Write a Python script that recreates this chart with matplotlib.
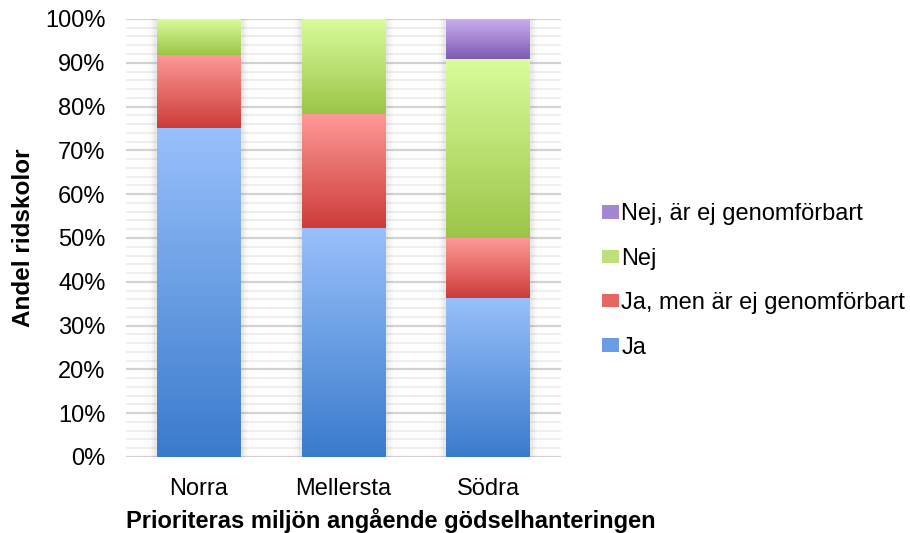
import numpy as np
import matplotlib
matplotlib.use('Agg')
from matplotlib import pyplot as plt
from matplotlib.colors import LinearSegmentedColormap
from matplotlib.patches import Patch

plt.rcParams['font.family'] = ['Liberation Sans', 'DejaVu Sans']

# shares of riding schools per region (percent)
regions = ['Norra', 'Mellersta', 'Södra']
ja = [75.0, 52.2, 36.4]
ja_men = [16.7, 26.1, 13.6]
nej = [8.3, 21.7, 40.9]
nej_ej = [0.0, 0.0, 9.1]

series = [
    ('Ja', ja, '#99c0fb', '#3a7bcc'),
    ('Ja, men är ej genomförbart', ja_men, '#ff9a98', '#cc3c39'),
    ('Nej', nej, '#dbfc9c', '#9bc548'),
    ('Nej, är ej genomförbart', nej_ej, '#c9aef0', '#7d5bb3'),
]

fs = 17

fig = plt.figure(figsize=(9.1, 5.33), dpi=100)
ax = fig.add_axes([0.139, 0.1426, 0.477, 0.8218])

x = np.arange(len(regions))
width = 0.58

# grid: light minor lines every 2%, darker major every 10%
for v in np.arange(0, 101, 2):
    if v % 10 == 0:
        ax.axhline(v, color='#d3d3d3', lw=1.6, zorder=0)
    else:
        ax.axhline(v, color='#ececec', lw=1.2, zorder=0)

# soft shadow around each column
for xi in x:
    for k, a in [(0.05, 0.04), (0.035, 0.05), (0.02, 0.07)]:
        ax.add_patch(plt.Rectangle((xi - width / 2 - k, -0.3), width + 2 * k, 100.3,
                                   color='#808080', alpha=a, lw=0, zorder=1))

grad = np.linspace(0, 1, 256).reshape(-1, 1)
bottom = np.zeros(len(regions))
for name, vals, top_c, bot_c in series:
    vals = np.array(vals)
    cmap = LinearSegmentedColormap.from_list(name, [bot_c, top_c])
    bars = ax.bar(x, vals, width, bottom=bottom, color='none', lw=0, zorder=2)
    for b in bars:
        if b.get_height() <= 0:
            continue
        x0, y0 = b.get_x(), b.get_y()
        im = ax.imshow(grad, cmap=cmap, origin='lower', aspect='auto',
                       extent=(x0, x0 + b.get_width(), y0, y0 + b.get_height()),
                       zorder=3, interpolation='bilinear')
        im.set_clip_path(b)
    bottom += vals

ax.set_xlim(-0.5, 2.5)
ax.set_ylim(0, 100)
ax.set_xticks(x)
ax.set_xticklabels(regions)
ax.set_yticks(np.arange(0, 101, 10))
ax.set_yticklabels([f'{v}%' for v in range(0, 101, 10)])
ax.tick_params(length=0, labelsize=fs, pad=15)
ax.tick_params(axis='x', pad=15)
for s in ax.spines.values():
    s.set_visible(False)

ax.set_xlabel('Prioriteras miljön angående gödselhanteringen', fontsize=fs,
              fontweight='bold')
ax.xaxis.set_label_coords(0.609, -0.117)
ax.set_ylabel('Andel ridskolor', fontsize=fs + 0.5, fontweight='bold', labelpad=7)

handles = [Patch(facecolor=c, label=n) for n, c in
           [('Nej, är ej genomförbart', '#a487d4'), ('Nej', '#bde07a'),
            ('Ja, men är ej genomförbart', '#e56663'), ('Ja', '#6a9de6')]]
fig.legend(handles=handles, loc='center left', bbox_to_anchor=(0.662, 0.473),
           frameon=False, fontsize=fs, handlelength=0.7, handleheight=0.5,
           handletextpad=0.1, labelspacing=0.95, borderpad=0, borderaxespad=0)

fig.savefig('out.png', dpi=100)
